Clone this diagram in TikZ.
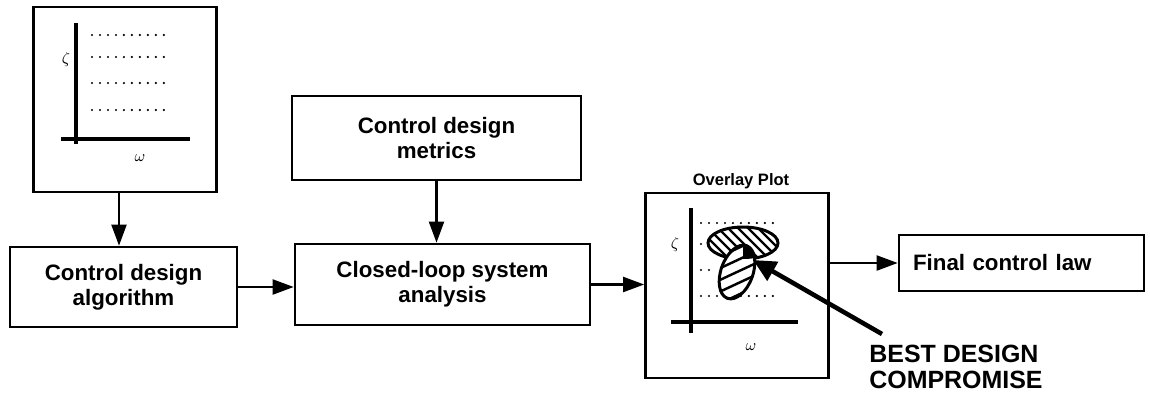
\documentclass[tikz,border=0pt]{standalone}
\usepackage{fontspec}
\setmainfont{Liberation Sans}
\usetikzlibrary{arrows.meta}

\newcommand{\boxfont}{\fontsize{12.7}{14.2}\selectfont\bfseries}
\newcommand{\titlefont}{\fontsize{9.4}{11}\selectfont\bfseries}
\newcommand{\bestfont}{\fontsize{14.2}{14.4}\selectfont\bfseries}

\begin{document}
\begin{tikzpicture}[x=0.02cm, y=-0.02cm,
    box/.style={draw, line width=1.5pt, font=\boxfont, align=center, inner sep=0pt},
    frame/.style={draw, line width=1.5pt, minimum width=3.66cm, minimum height=3.7cm, inner sep=0pt},
    flow/.style={-{Triangle[length=12pt,width=8.5pt]}, line width=1.4pt},
    pointer/.style={-{Triangle[length=13pt,width=12pt]}, line width=2.6pt},
    axis/.style={line width=1.8pt},
    level/.style={line width=1.4pt, line cap=round, dash pattern=on 0pt off 4.55pt},
    hatch/.style={line width=1.4pt}]
  \useasboundingbox (0,0) rectangle (1150,406);

  % zeta-omega plot fed into the design algorithm
  \node[frame] (plotbox) at (125,99.5) {};
  \draw[axis] (76,23) -- (76,144);
  \draw[axis] (61,139) -- (190,139);
  \foreach \y in {35,57,83,110} {
    \draw[level] (92,\y) -- (170,\y);
  }
  \node[font=\small] (zetain) at (66,60) {$\zeta$};
  \node[font=\small] (omegain) at (140,158) {$\omega$};

  % blocks
  \node[box, minimum width=4.54cm, minimum height=1.6cm] (algbox) at (123.5,287) {Control design\\algorithm};
  \node[box, minimum width=5.78cm, minimum height=1.68cm] (metricbox) at (436.5,138) {Control design\\metrics};
  \node[box, minimum width=5.9cm, minimum height=1.62cm] (loopbox) at (442.5,284.5) {Closed-loop system\\analysis};
  \node[box, minimum width=4.9cm, minimum height=1.12cm, text width=4.34cm, align=left, inner xsep=0.28cm] (finalbox) at (1021.5,263) {Final control law};

  % overlay plot
  \node[frame] (overlaybox) at (737,285.5) {};
  \node[font=\titlefont] (overlaytitle) at (741,181) {Overlay Plot};
  \draw[axis] (691,208) -- (691,333);
  \draw[axis] (671,322) -- (798,322);
  \foreach \y/\e in {223/777,244/777,270/712,296/777} {
    \draw[level] (701,\y) -- (\e,\y);
  }
  \node[font=\small] (zetaov) at (675,245) {$\zeta$};
  \node[font=\small] (omegaov) at (751,347) {$\omega$};

  % first design region
  \fill[white] (743,243) ellipse [x radius=35, y radius=16];
  \begin{scope}
    \clip (743,243) ellipse [x radius=35, y radius=16];
    \foreach \x in {693,703,...,793} {
      \draw[hatch] (\x-25,218) -- (\x+25,268);
    }
  \end{scope}
  \draw[line width=1.7pt] (743,243) ellipse [x radius=35, y radius=16];

  % second design region
  \begin{scope}[rotate around={-20:(737,272)}]
    \fill[white] (737,272) ellipse [x radius=16, y radius=28];
    \begin{scope}
      \clip (737,272) ellipse [x radius=16, y radius=28];
      \foreach \x in {707,722,...,767} {
        \draw[hatch] (\x-35,307) -- (\x+35,237);
      }
    \end{scope}
    \draw[line width=1.7pt] (737,272) ellipse [x radius=16, y radius=28];
  \end{scope}

  % where the two regions meet
  \begin{scope}
    \clip (743,243) ellipse [x radius=35, y radius=16];
    \clip[rotate around={-20:(737,272)}] (737,272) ellipse [x radius=16, y radius=28];
    \fill (743,230) rectangle (790,290);
  \end{scope}

  \coordinate (best) at (753,260);
  \node[anchor=north west, inner sep=0pt, font=\bestfont, align=left] (comp) at (869,345) {BEST DESIGN\\COMPROMISE};

  % connectors
  \draw[flow] ([xshift=-0.12cm]plotbox.south) -- ([xshift=-0.12cm]plotbox.south |- algbox.north);
  \draw[flow] (algbox.east) -- (algbox.east -| loopbox.west);
  \draw[flow] (metricbox.south) -- (metricbox.south |- loopbox.north);
  \draw[flow] (loopbox.east) -- (loopbox.east -| overlaybox.west);
  \draw[flow] (finalbox.west -| overlaybox.east) -- (finalbox.west);
  \draw[pointer] ([xshift=0.26cm, yshift=0.22cm]comp.north west) -- (best);
\end{tikzpicture}
\end{document}
